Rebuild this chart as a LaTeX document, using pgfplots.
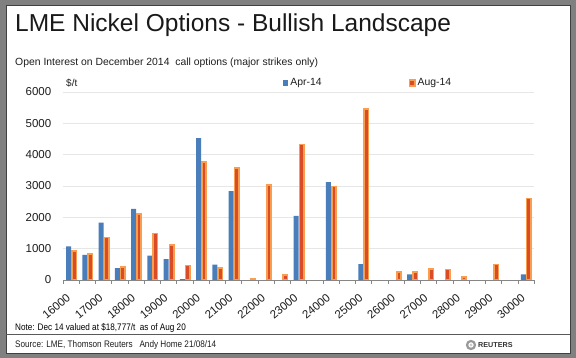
\documentclass[border=0pt]{standalone}
\usepackage{graphicx}
\usepackage{pgfplots}
\pgfplotsset{compat=1.18}
\usepackage{fontspec}
\setmainfont{Liberation Sans}
\definecolor{aprblue}{RGB}{74,126,187}
\definecolor{augedge}{RGB}{249,158,78}
\definecolor{augmid}{RGB}{218,76,38}
\definecolor{framegray}{RGB}{128,128,128}
\definecolor{gridgray}{RGB}{230,230,230}
\definecolor{axisgray}{RGB}{134,134,134}
\definecolor{textgray}{RGB}{30,30,30}
\begin{document}
\begin{tikzpicture}
\useasboundingbox (0,0) rectangle (576pt,358pt);
\fill[framegray] (0,0) rectangle (576pt,358pt);
\fill[white] (6pt,5pt) rectangle (570pt,353pt);
\draw[black!75, line width=0.8pt] (6pt,5pt) rectangle (570pt,353pt);
\draw[black!65, line width=0.6pt] (6pt,24pt) -- (570pt,24pt);
\node[anchor=base west, inner sep=0pt, font=\fontsize{24.5}{28}\selectfont, text=black!90] at (15pt,326pt) {LME Nickel Options - Bullish Landscape};
\node[anchor=base west, inner sep=0pt, font=\fontsize{10.4}{12}\selectfont, text=textgray] at (15pt,292pt) {Open Interest on December 2014\ \ call options (major strikes only)};
\node[anchor=base west, inner sep=0pt, font=\fontsize{10}{12}\selectfont, text=textgray] at (66pt,271pt) {\$/t};
\node[anchor=base west, inner sep=0pt, font=\fontsize{9.5}{11}\selectfont, text=black] at (15pt,27pt) {\scalebox{0.86}[1]{Note: Dec 14 valued at \$18,777/t\ \ as of Aug 20}};
\node[anchor=base west, inner sep=0pt, font=\fontsize{9.5}{11}\selectfont, text=textgray] at (15pt,10pt) {\scalebox{0.86}[1]{Source: LME, Thomson Reuters\hspace{8pt}Andy Home 21/08/14}};
\draw[gray!80, line width=2.2pt] (471pt,13pt) circle (4pt);
\fill[gray!40] (471pt,13pt) circle (1.6pt);
\node[anchor=base west, inner sep=0pt, font=\fontsize{7.2}{9}\selectfont\bfseries, text=black!80] at (478pt,10.5pt) {REUTERS};
\begin{axis}[
  at={(63pt,78pt)}, anchor=south west, scale only axis,
  width=471pt, height=188pt,
  xmin=-0.5, xmax=28.5, ymin=0, ymax=6000,
  axis x line*=bottom, axis y line*=left,
  y axis line style={draw=none},
  x axis line style={draw=axisgray, line width=0.6pt},
  ymajorgrids, grid style={draw=gridgray, line width=0.6pt},
  ytick={0,1000,...,6000},
  ytick style={draw=none},
  xtick={0,2,...,28},
  xticklabels={16000,17000,18000,19000,20000,21000,22000,23000,24000,25000,26000,27000,28000,29000,30000},
  major x tick style={draw=none},
  minor xtick={-0.5,0.5,...,28.5},
  minor x tick style={draw=axisgray, line width=0.5pt},
  minor tick length=4pt,
  tick align=outside,
  /pgf/number format/assume math mode=true,
  /pgf/number format/1000 sep={},
  yticklabel style={font=\fontsize{11.5}{13}\selectfont, text=textgray, xshift=-4pt},
  xticklabel style={xshift=-5pt, yshift=-7pt, rotate=40, anchor=north east, font=\fontsize{11.5}{13}\selectfont, text=textgray, inner sep=1pt},
  legend columns=2,
  legend style={at={(0.4665,1.048)}, anchor=west, draw=none, fill=none, inner sep=0pt,
    font=\fontsize{10.4}{12}\selectfont, text=textgray,
    /tikz/every even column/.append style={column sep=85pt}},
  legend image code/.code={\fill[#1] (0pt,-3pt) rectangle (5.5pt,3pt);},
]
\addplot[ybar, bar width=5pt, bar shift=-2.5pt, fill=aprblue, draw=none] coordinates {
(0,1070) (1,800) (2,1830) (3,380) (4,2270) (5,780) (6,670) (7,30) (8,4530) (9,490) (10,2840)
(14,2050) (16,3120) (18,510) (21,180) (28,180)};
\addlegendentry{Apr-14}
\addplot[ybar, bar width=4.4pt, bar shift=3pt, fill=augmid, draw=augedge, line width=1.6pt] coordinates {
(0,930) (1,830) (2,1360) (3,415) (4,2110) (5,1490) (6,1110) (7,460) (8,3760) (9,375) (10,3580)
(11,40) (12,3030) (13,150) (14,4320) (16,2990) (18,5460) (20,260) (21,260) (22,350) (23,330)
(24,95) (26,500) (28,2600)};
\addlegendentry{Aug-14}
\end{axis}
\end{tikzpicture}
\end{document}
